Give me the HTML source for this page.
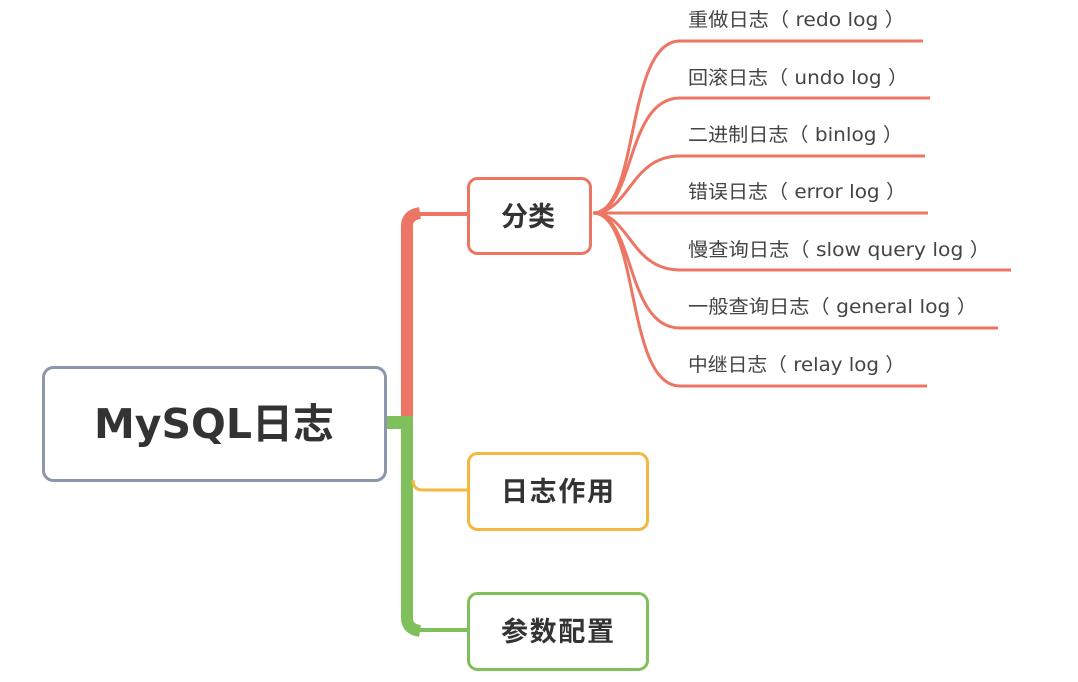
<!DOCTYPE html>
<html><head><meta charset="utf-8"><style>
html,body{margin:0;padding:0;background:#fff;}
svg{display:block;}
text{font-family:"DejaVu Sans","Noto Sans CJK SC",sans-serif;}
</style></head><body>
<svg width="1078" height="682" viewBox="0 0 1078 682" xmlns="http://www.w3.org/2000/svg">
<g fill="none" stroke="#ec7563" stroke-width="3">
<path d="M593 213 C640 213 625 41 680 41 L923 41"/>
<path d="M593 213 C635 213 625 98 680 98 L930 98"/>
<path d="M593 213 C630 213 630 156 680 156 L925 156"/>
<path d="M593 213 L928 213"/>
<path d="M593 213 C630 213 630 270 680 270 L1011 270"/>
<path d="M593 213 C635 213 625 328 680 328 L998 328"/>
<path d="M593 213 C640 213 625 386 680 386 L927 386"/>
</g>
<path d="M418 214 L468 214" stroke="#ec7563" stroke-width="4"/>
<path d="M407 420 L407 226 Q407 215 420 213" fill="none" stroke="#ec7563" stroke-width="12"/>
<rect x="386" y="416" width="27" height="13" fill="#80c05c"/>
<path d="M407 418 L407 618 Q407 629 420 631" fill="none" stroke="#80c05c" stroke-width="12"/>
<path d="M418 630 L468 630" stroke="#80c05c" stroke-width="4"/>
<path d="M413 480 Q413 490 423 490 L468 490" fill="none" stroke="#f4b73f" stroke-width="3"/>
<rect x="43.5" y="367.5" width="342" height="113" rx="10" fill="#fff" stroke="#8b98ab" stroke-width="3"/>
<text x="94" y="438" font-size="41" font-weight="bold" fill="#333" textLength="240" lengthAdjust="spacingAndGlyphs">MySQL日志</text>
<rect x="468.5" y="178.5" width="122" height="75" rx="9" fill="#fff" stroke="#ec7563" stroke-width="3"/>
<text x="501" y="226" font-size="27" font-weight="bold" fill="#333">分类</text>
<rect x="468.5" y="453.5" width="179" height="76" rx="9" fill="#fff" stroke="#f4b73f" stroke-width="3"/>
<text x="501" y="501" font-size="27" font-weight="bold" fill="#333" textLength="113">日志作用</text>
<rect x="468.5" y="593.5" width="179" height="76" rx="9" fill="#fff" stroke="#80c05c" stroke-width="3"/>
<text x="501" y="641" font-size="27" font-weight="bold" fill="#333" textLength="113">参数配置</text>
<g font-size="19" fill="#444" lengthAdjust="spacingAndGlyphs">
<text x="688" y="26" textLength="217" lengthAdjust="spacingAndGlyphs">重做日志（ redo log ）</text>
<text x="688" y="84" textLength="220" lengthAdjust="spacingAndGlyphs">回滚日志（ undo log ）</text>
<text x="688" y="141" textLength="215" lengthAdjust="spacingAndGlyphs">二进制日志（ binlog ）</text>
<text x="688" y="198" textLength="218" lengthAdjust="spacingAndGlyphs">错误日志（ error log ）</text>
<text x="688" y="256" textLength="302" lengthAdjust="spacingAndGlyphs">慢查询日志（ slow query log ）</text>
<text x="688" y="313" textLength="289" lengthAdjust="spacingAndGlyphs">一般查询日志（ general log ）</text>
<text x="688" y="371" textLength="217" lengthAdjust="spacingAndGlyphs">中继日志（ relay log ）</text>
</g>
</svg>
</body></html>
